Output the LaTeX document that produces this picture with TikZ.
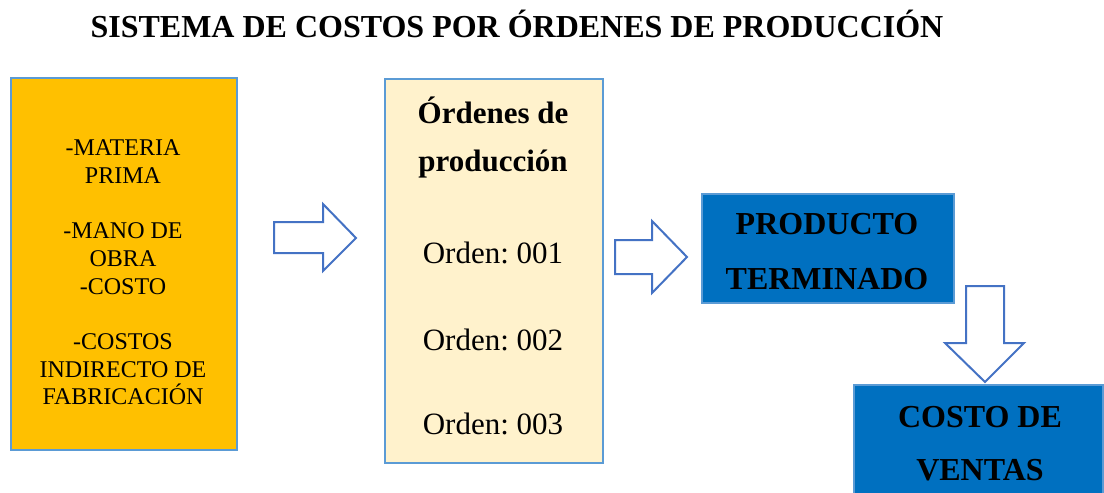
\documentclass[tikz,border=0pt]{standalone}
\usepackage{fontspec}
\setmainfont{Liberation Serif}
\frenchspacing
\definecolor{orangefill}{HTML}{FFC000}
\definecolor{creamfill}{HTML}{FFF2CC}
\definecolor{bluefill}{HTML}{0070C0}
\definecolor{boxline}{HTML}{5B9BD5}
\definecolor{arrowline}{HTML}{4472C4}
\begin{document}
\begin{tikzpicture}[x=1pt,y=-1pt,
  box/.style={draw=boxline, line width=2pt, inner sep=0pt, anchor=north west},
  blockarrow/.style={draw=arrowline, line width=2pt, fill=white, line join=miter},
  smalltxt/.style={anchor=base, inner sep=0pt, font=\fontsize{24}{28}\selectfont},
  midtxt/.style={anchor=base, inner sep=0pt, font=\fontsize{31}{36}\selectfont},
  boldtxt/.style={anchor=base, inner sep=0pt, font=\fontsize{32}{38}\selectfont\bfseries}]
\useasboundingbox (0,0) rectangle (1104,493);
\clip (0,0) rectangle (1104,493);

% title
\node[boldtxt] (title) at (517,37) {SISTEMA DE COSTOS POR ÓRDENES DE PRODUCCIÓN};

% boxes
\node[box, fill=orangefill, minimum width=226pt, minimum height=372pt] (mat) at (10,77) {};
\node[box, fill=creamfill, minimum width=218pt, minimum height=384pt] (ord) at (384,78) {};
\node[box, fill=bluefill, minimum width=252pt, minimum height=109pt] (prod) at (701,193) {};
\node[box, fill=bluefill, minimum width=249pt, minimum height=130pt] (cv) at (853,384) {};

% left box text
\node[smalltxt] (m1) at (123,155) {-MATERIA};
\node[smalltxt] (m2) at (123,183) {PRIMA};
\node[smalltxt] (m3) at (123,238) {-MANO DE};
\node[smalltxt] (m4) at (123,266) {OBRA};
\node[smalltxt] (m5) at (123,294) {-COSTO};
\node[smalltxt] (m6) at (123,349) {-COSTOS};
\node[smalltxt] (m7) at (123,377) {INDIRECTO DE};
\node[smalltxt] (m8) at (123,404) {FABRICACIÓN};

% middle box text
\node[midtxt, font=\fontsize{31}{36}\selectfont\bfseries] (o1) at (493,123) {Órdenes de};
\node[midtxt, font=\fontsize{31}{36}\selectfont\bfseries] (o2) at (493,171) {producción};
\node[midtxt] (o3) at (493,263) {Orden: 001};
\node[midtxt] (o4) at (493,350) {Orden: 002};
\node[midtxt] (o5) at (493,434) {Orden: 003};

% product box text
\node[boldtxt] (p1) at (827,234) {PRODUCTO};
\node[boldtxt] (p2) at (827,289) {TERMINADO};

% cost box text
\node[boldtxt] (c1) at (980,427) {COSTO DE};
\node[boldtxt] (c2) at (980,480) {VENTAS};

% block arrows
\draw[blockarrow] (274,222) -- (323,222) -- (323,204) -- (356,238) -- (323,271) -- (323,253) -- (274,253) -- cycle;
\draw[blockarrow] (615,240) -- (652,240) -- (652,221) -- (687,257) -- (652,293) -- (652,274) -- (615,274) -- cycle;
\draw[blockarrow] (966,286) -- (1004,286) -- (1004,343) -- (1024,343) -- (985,382) -- (945,343) -- (966,343) -- cycle;
\end{tikzpicture}
\end{document}
